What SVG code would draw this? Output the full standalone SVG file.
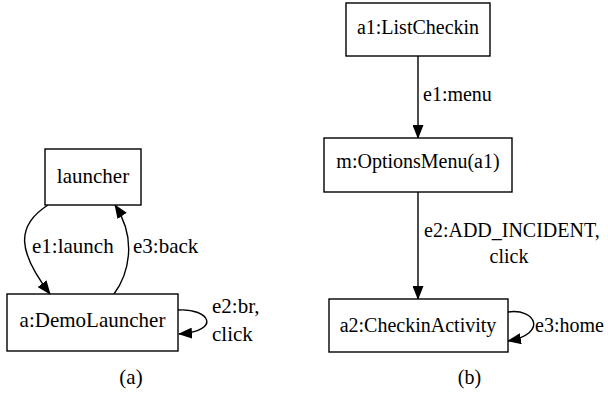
<svg xmlns="http://www.w3.org/2000/svg" width="608" height="396" viewBox="0 0 608 396" font-family="Liberation Serif, Times New Roman, Times, serif">
<style>
text{font-family:'Liberation Serif','Times New Roman',Times,'DejaVu Serif',serif;font-size:20px;fill:#000}
.a{font-size:21px}
.c{text-anchor:middle}
.n{fill:#fff;stroke:#000;stroke-width:1.4}
.e{fill:none;stroke:#000;stroke-width:1.4;marker-end:url(#arr)}
</style>
<defs>
<marker id="arr" markerUnits="userSpaceOnUse" viewBox="0 0 14 11" markerWidth="14" markerHeight="11" refX="13" refY="5.5" orient="auto">
<path d="M0,0 L14,5.5 L0,11 z" fill="#000"/>
</marker>
</defs>
<g id="edges">
<path class="e" d="M48,205 C15,226 18,252 50,294"/>
<path class="e" d="M114,294 C128,275 138,240 115,205"/>
<path class="e" d="M178,310 C210,308 222,331 179,334"/>
<path class="e" d="M418,56 L418,138"/>
<path class="e" d="M418,192 L418,299"/>
<path class="e" d="M508,312 C536,308 548,334 508,341"/>
</g>
<g id="edge-labels">
<text class="a" x="32" y="253">e1:launch</text>
<text class="a" x="133" y="253">e3:back</text>
<text class="a" x="212" y="313">e2:br,</text>
<text class="a" x="212" y="341">click</text>
<text x="423" y="101">e1:menu</text>
<text x="424" y="237">e2:ADD_INCIDENT,</text>
<text class="c" x="509" y="263">click</text>
<text x="535" y="332">e3:home</text>
</g>
<g id="launcher">
<rect class="n" x="45" y="149" width="96" height="56"/>
<text class="a c" x="93" y="183">launcher</text>
</g>
<g id="demolauncher">
<rect class="n" x="7" y="294" width="171" height="57"/>
<text class="a c" x="92.5" y="327">a:DemoLauncher</text>
</g>
<g id="listcheckin">
<rect class="n" x="346" y="3" width="144" height="53"/>
<text class="c" x="418" y="34">a1:ListCheckin</text>
</g>
<g id="optionsmenu">
<rect class="n" x="324" y="138" width="188" height="54"/>
<text class="c" x="418" y="168">m:OptionsMenu(a1)</text>
</g>
<g id="checkinactivity">
<rect class="n" x="329" y="299" width="179" height="53"/>
<text class="c" x="418" y="332">a2:CheckinActivity</text>
</g>
<g id="captions">
<text class="a c" x="131" y="384">(a)</text>
<text class="c" x="469.5" y="384">(b)</text>
</g>
</svg>
